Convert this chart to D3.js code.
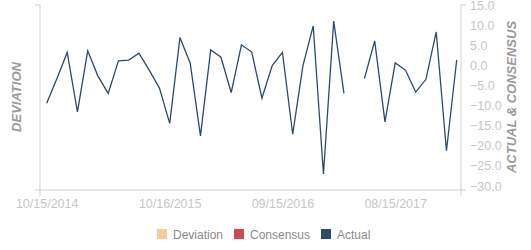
<!DOCTYPE html>
<html>
<head>
<meta charset="utf-8">
<script src="https://cdn.jsdelivr.net/npm/d3@7"></script>
<style>
  body { margin: 0; background: #fff; }
  svg { display: block; font-family: "Liberation Sans", Arial, sans-serif; }
</style>
</head>
<body>
<svg id="chart" width="531" height="250"></svg>
<script>
// monthly release dates
const dates = [
    '10/15/2014', '11/14/2014', '12/15/2014',
    '01/15/2015', '02/13/2015', '03/16/2015', '04/15/2015', '05/15/2015', '06/15/2015',
    '07/15/2015', '08/14/2015', '09/15/2015', '10/16/2015', '11/16/2015', '12/15/2015',
    '01/15/2016', '02/16/2016', '03/15/2016', '04/15/2016', '05/16/2016', '06/15/2016',
    '07/15/2016', '08/15/2016', '09/15/2016', '10/17/2016', '11/15/2016', '12/15/2016',
    '01/17/2017', '02/15/2017', '03/15/2017', '04/17/2017', '05/15/2017', '06/15/2017',
    '07/17/2017', '08/15/2017', '09/15/2017', '10/16/2017', '11/15/2017', '12/15/2017',
    '01/16/2018', '02/15/2018',
];

const actual = [
    -9.4, -3.2, 3.3, -11.5, 3.7, -2.6, -6.9, 1.2, 1.4, 3.1, -1.1, -5.6,
    -14.4, 7.0, 0.6, -17.5, 3.9, 2.1, -6.7, 5.2, 3.4, -8.1, 0.0, 3.3,
    -17.1, 0.0, 9.9, -27.0, 11.1, -6.9, null, -3.2, 6.2, -14.0, 0.7, -1.1,
    -6.6, -3.4, 8.4, -21.2, 1.4,
];
const consensus = [];
const deviation = [];

const xTickLabels = ['10/15/2014', '10/16/2015', '09/15/2016', '08/15/2017'];
const yTicks = [15, 10, 5, 0, -5, -10, -15, -20, -25, -30];

const legendItems = ['Deviation', 'Consensus', 'Actual'];
const legendColors = ['#f6cc9c', '#d2465a', '#2c4a6e'];

const plot = { left: 40, right: 461, top: 5, bottom: 190 };
const axisColor = '#cfcfcf';
const tickColor = '#c6c6c6';

const svg = d3.select('#chart');

const x = d3.scalePoint()
    .domain(dates)
    .range([46.7, 456.7]);

const y = d3.scaleLinear()
    .domain([-30, 15])
    .range([186, 5.5]);

// frame lines
svg.append('path')
    .attr('d', `M${plot.left - 5},${plot.top}H${plot.left}V${plot.bottom}`)
    .attr('fill', 'none')
    .attr('stroke', axisColor);
svg.append('path')
    .attr('d', `M${plot.right + 5},${plot.top}H${plot.right}V${plot.bottom}`)
    .attr('fill', 'none')
    .attr('stroke', axisColor);
svg.append('path')
    .attr('d', `M${plot.left - 5},${plot.bottom}H${plot.right + 5}M${plot.left},${plot.bottom}V${plot.bottom + 6}M${plot.right},${plot.bottom}V${plot.bottom + 6}`)
    .attr('fill', 'none')
    .attr('stroke', axisColor);

// x axis labels
const xAxis = svg.append('g')
    .attr('transform', `translate(0,${plot.bottom})`)
    .call(d3.axisBottom(x).tickValues(xTickLabels).tickSize(0).tickPadding(9));
xAxis.select('.domain').remove();
xAxis.selectAll('text')
    .attr('fill', tickColor)
    .style('font-size', '12.5px')
    .style('font-family', '"Liberation Sans", Arial, sans-serif');

// right axis labels
const yAxis = svg.append('g')
    .attr('transform', `translate(${plot.right},0)`)
    .call(d3.axisRight(y).tickValues(yTicks).tickFormat(d3.format('.1f')).tickSize(0).tickPadding(9));
yAxis.select('.domain').remove();
yAxis.selectAll('text')
    .attr('fill', tickColor)
    .style('font-size', '12.5px')
    .style('font-family', '"Liberation Sans", Arial, sans-serif');

// axis titles
svg.append('text')
    .attr('transform', 'translate(21,97) rotate(-90)')
    .attr('text-anchor', 'middle')
    .attr('fill', '#9a9a9a')
    .style('font-size', '13px')
    .style('font-weight', 'bold')
    .style('font-style', 'italic')
    .text('DEVIATION');

svg.append('text')
    .attr('transform', 'translate(516,97) rotate(-90)')
    .attr('text-anchor', 'middle')
    .attr('fill', '#9a9a9a')
    .style('font-size', '13px')
    .style('font-weight', 'bold')
    .style('font-style', 'italic')
    .text('ACTUAL & CONSENSUS');

// actual line
const line = d3.line()
    .defined((d) => d !== null)
    .x((d, i) => x(dates[i]))
    .y((d) => y(d));

svg.append('path')
    .datum(actual)
    .attr('d', line)
    .attr('fill', 'none')
    .attr('stroke', legendColors[2])
    .attr('stroke-width', 1.3)
    .attr('stroke-linejoin', 'miter');

// legend
const legendX = [157, 234, 321];
const legend = svg.selectAll('.legend')
    .data(legendItems)
    .enter()
    .append('g')
    .attr('class', 'legend')
    .attr('transform', (d, i) => `translate(${legendX[i]},229)`);

legend.append('rect')
    .attr('width', 10)
    .attr('height', 10)
    .attr('fill', (d, i) => legendColors[i]);

legend.append('text')
    .attr('x', 16)
    .attr('y', 9.5)
    .attr('fill', '#8a8a8a')
    .style('font-size', '12px')
    .text((d) => d);
</script>
</body>
</html>
